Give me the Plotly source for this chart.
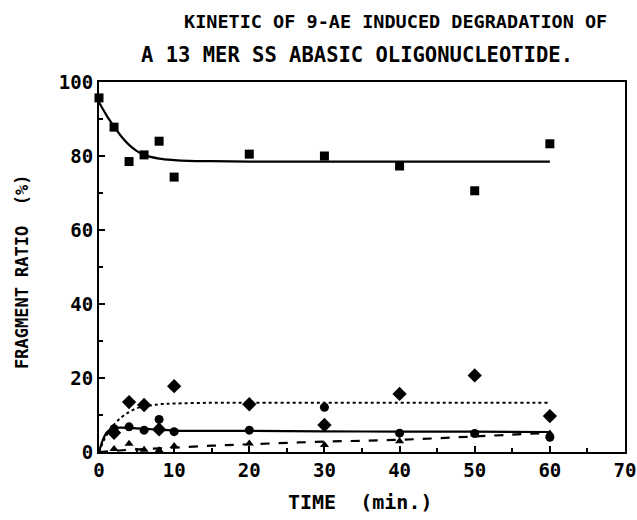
import plotly.graph_objects as go

# Measured time points (min.)
times = [0, 2, 4, 6, 8, 10, 20, 30, 40, 50, 60]
times_low = [2, 4, 6, 8, 10, 20, 30, 40, 50, 60]

# Series values (%)
squares = [95.7, 87.8, 78.5, 80.3, 84.0, 74.3, 80.5, 80.0, 77.3, 70.6, 83.3]
diamonds = [5.2, 13.5, 12.7, 6.1, 17.8, 12.9, 7.3, 15.7, 20.7, 9.7]
circles = [6.3, 6.8, 5.9, 8.8, 5.5, 5.9, 12.1, 5.1, 5.0, 4.0]
triangles = [0.8, 2.2, 0.6, 0.5, 1.6, 2.3, 1.9, 2.9, 4.8, 5.0]

# Fitted curves
fit_top_x = [0, 1, 2, 3, 4, 5, 6, 8, 10, 12, 15, 20, 30, 40, 50, 60]
fit_top_y = [94.5, 91.0, 88.0, 85.2, 83.0, 81.4, 80.3, 79.3, 78.9, 78.7, 78.6, 78.5, 78.5, 78.5, 78.5, 78.5]

fit_dot_x = [0, 0.5, 1, 2, 3, 4, 5, 6, 8, 10, 15, 20, 30, 40, 50, 60]
fit_dot_y = [0, 2.5, 4.5, 7.4, 9.4, 10.8, 11.8, 12.3, 12.9, 13.1, 13.3, 13.3, 13.3, 13.3, 13.3, 13.3]

fit_sol_x = [0, 0.5, 1, 1.5, 2, 3, 4, 6, 8, 10, 20, 30, 40, 50, 60]
fit_sol_y = [0, 3.2, 5.2, 6.1, 6.5, 6.6, 6.5, 6.3, 6.0, 5.8, 5.7, 5.6, 5.5, 5.5, 5.4]

fit_dash_x = [0, 2, 4, 6, 8, 10, 15, 20, 30, 40, 50, 60]
fit_dash_y = [0, 0.3, 0.6, 0.8, 1.0, 1.2, 1.7, 2.1, 2.8, 3.3, 4.2, 5.2]

x_ticks = [0, 10, 20, 30, 40, 50, 60, 70]
y_ticks = [0, 20, 40, 60, 80, 100]

FONT = "DejaVu Sans Mono"
BLACK = "#000000"

W, H = 637, 520
L, T = 99, 82
R = W - 625
B = H - 452
PW, PH = W - L - R, H - T - B


def px(xp):
    return (xp - L) / PW


def py(yp):
    return 1 - (yp - T) / PH


fig = go.Figure()

fig.add_trace(go.Scatter(x=fit_top_x, y=fit_top_y, mode="lines", line=dict(color=BLACK, width=2.2, shape="spline"), showlegend=False))
fig.add_trace(go.Scatter(x=fit_dot_x, y=fit_dot_y, mode="lines", line=dict(color=BLACK, width=2, dash="dot", shape="spline"), showlegend=False))
fig.add_trace(go.Scatter(x=fit_sol_x, y=fit_sol_y, mode="lines", line=dict(color=BLACK, width=2.2, shape="spline"), showlegend=False))
fig.add_trace(go.Scatter(x=fit_dash_x, y=fit_dash_y, mode="lines", line=dict(color=BLACK, width=2.2, dash="dash", shape="spline"), showlegend=False))

fig.add_trace(go.Scatter(x=times, y=squares, mode="markers", marker=dict(symbol="square", size=9, color=BLACK), showlegend=False, cliponaxis=False))
fig.add_trace(go.Scatter(x=times_low, y=diamonds, mode="markers", marker=dict(symbol="diamond", size=11, color=BLACK), showlegend=False))
fig.add_trace(go.Scatter(x=times_low, y=circles, mode="markers", marker=dict(symbol="circle", size=9, color=BLACK), showlegend=False))
fig.add_trace(go.Scatter(x=times_low, y=triangles, mode="markers", marker=dict(symbol="triangle-up", size=8, color=BLACK), showlegend=False))

fig.add_annotation(text="KINETIC OF 9-AE INDUCED DEGRADATION OF", xref="paper", yref="paper",
                   x=px(395), y=py(22), xanchor="center", yanchor="middle",
                   showarrow=False, font=dict(family=FONT, size=18.5, color=BLACK, weight="bold"))
fig.add_annotation(text="A 13 MER SS ABASIC OLIGONUCLEOTIDE.", xref="paper", yref="paper",
                   x=px(357), y=py(55), xanchor="center", yanchor="middle",
                   showarrow=False, font=dict(family=FONT, size=20.5, color=BLACK, weight="bold"))

fig.add_annotation(text="TIME  (min.)", xref="paper", yref="paper",
                   x=px(360), y=py(502), xanchor="center", yanchor="middle",
                   showarrow=False, font=dict(family=FONT, size=20, color=BLACK, weight="bold"))
fig.add_annotation(text="FRAGMENT RATIO  (%)", xref="paper", yref="paper", textangle=-90,
                   x=px(22), y=py(272), xanchor="center", yanchor="middle",
                   showarrow=False, font=dict(family=FONT, size=17, color=BLACK, weight="bold"))

axis_common = dict(showgrid=False, zeroline=False, showline=True, linecolor=BLACK, linewidth=2,
                   mirror=True, ticks="inside", ticklen=6, tickwidth=1.5, tickcolor=BLACK,
                   automargin=False,
                   tickfont=dict(family=FONT, size=19, color=BLACK, weight="bold"))

fig.update_xaxes(range=[0, 70], tickvals=x_ticks, ticktext=[str(v) for v in x_ticks],
                 minor=dict(dtick=5, ticks="inside", ticklen=4, tickwidth=1.5, tickcolor=BLACK),
                 **axis_common)
fig.update_yaxes(range=[0, 100], tickvals=y_ticks, ticktext=[str(v) for v in y_ticks],
                 minor=dict(dtick=10, ticks="inside", ticklen=4, tickwidth=1.5, tickcolor=BLACK),
                 **axis_common)

fig.update_layout(width=W, height=H, margin=dict(l=L, r=R, t=T, b=B),
                  paper_bgcolor="white", plot_bgcolor="white", showlegend=False)

fig.write_html("out.html", config={"displayModeBar": False},
               post_script="document.body.style.margin='0';document.body.style.overflow='hidden';")
